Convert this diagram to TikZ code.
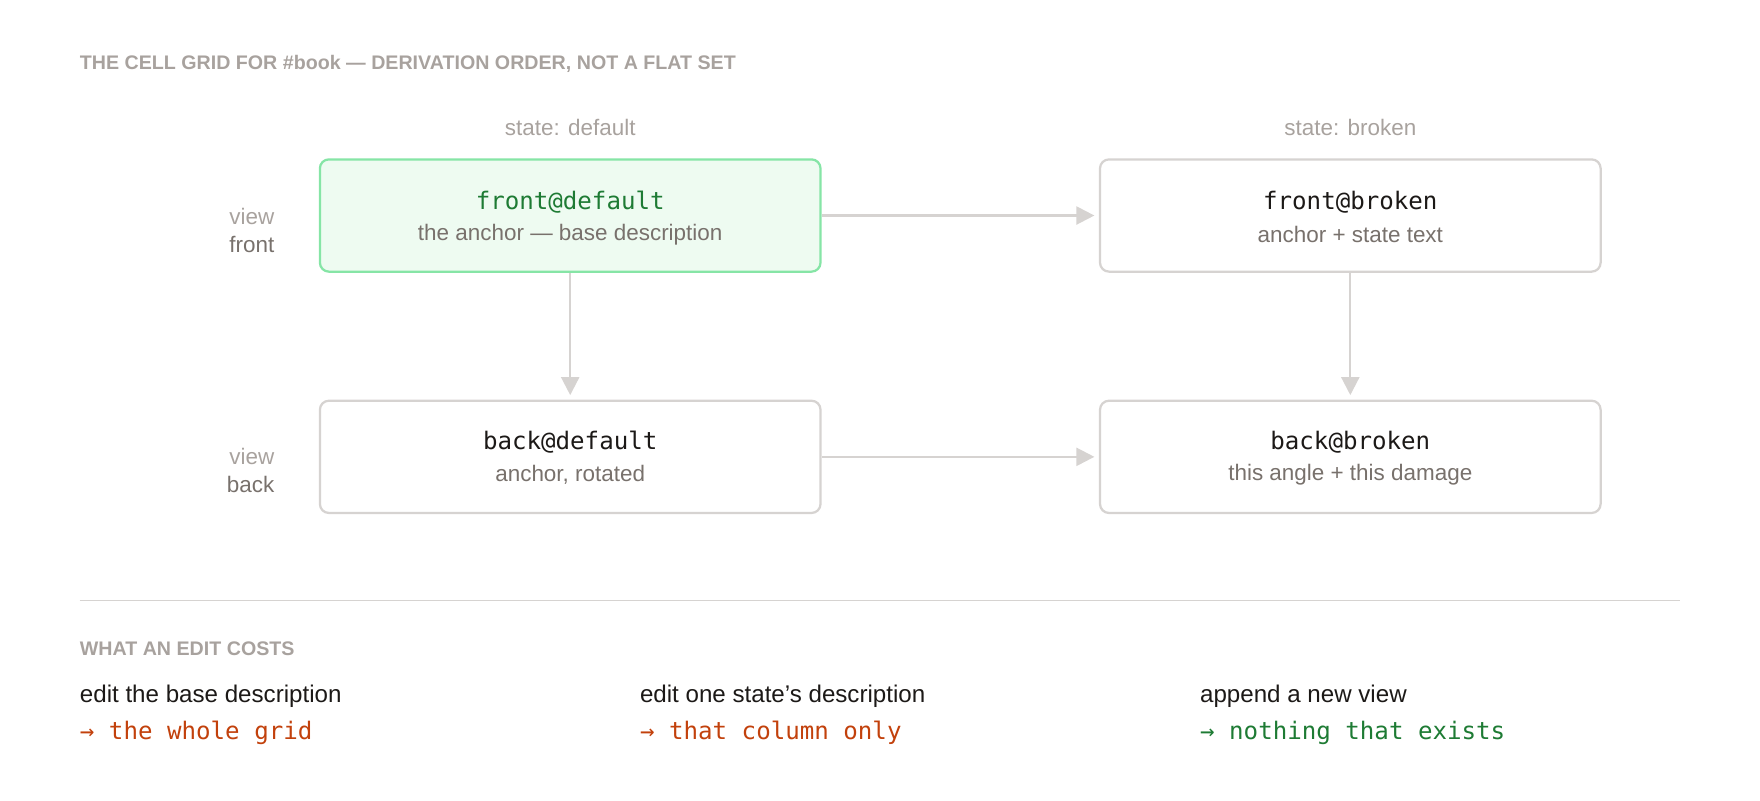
\documentclass[tikz,border=0pt]{standalone}
\usepackage{fontspec}
\setmainfont{Liberation Sans}
\setmonofont{DejaVu Sans Mono}
\usetikzlibrary{arrows.meta,positioning}
\definecolor{muted}{HTML}{A8A29E}
\definecolor{subtext}{HTML}{78716C}
\definecolor{edge}{HTML}{D6D3D1}
\definecolor{anchorfill}{HTML}{EEFBF1}
\definecolor{anchordraw}{HTML}{86E5A6}
\definecolor{goodtext}{HTML}{1E7B34}
\definecolor{costtext}{HTML}{C2410C}
\definecolor{ink}{HTML}{1C1917}

\begin{document}
\begin{tikzpicture}[x=1pt,y=-1pt,
    cell/.style={draw=edge,line width=2pt,rounded corners=8pt,fill=white,
      minimum width=446pt,minimum height=100pt},
    anchorcell/.style={cell,draw=anchordraw,fill=anchorfill},
    flow/.style={draw=edge,line width=2pt,-{Triangle[length=16pt,width=16pt]},shorten >=4pt},
    heading/.style={anchor=west,inner sep=0pt,text=muted,font=\bfseries\fontsize{17.5}{20}\selectfont},
    colhead/.style={text=muted,font=\fontsize{20}{23}\selectfont},
    rowhead/.style={anchor=east,align=right,font=\fontsize{20}{25}\selectfont},
    code/.style={font=\ttfamily\fontsize{21.5}{24}\selectfont},
    note/.style={text=subtext,font=\fontsize{20}{23}\selectfont},
    costname/.style={anchor=west,inner sep=0pt,text=ink,font=\fontsize{21.5}{24}\selectfont},
    costval/.style={anchor=west,inner sep=0pt,font=\ttfamily\fontsize{21.5}{24}\selectfont}]
    \useasboundingbox (0,0) rectangle (1568,713);

    \node[heading] (title) at (71,57) {THE CELL GRID FOR \#book — DERIVATION ORDER, NOT A FLAT SET};
    \node[colhead] (hdefault) at (508,114) {state: default};
    \node[colhead] (hbroken) at (1203,114) {state: broken};

    \node[rowhead] (vfront) at (248,205) {\textcolor{muted}{view}\\\textcolor{subtext}{front}};
    \node[rowhead] (vback) at (248,419) {\textcolor{muted}{view}\\\textcolor{subtext}{back}};

    % the grid
    \node[anchorcell] (fd) at (508,192) {};
    \node[cell] (fb) at (1203,192) {};
    \node[cell] (bd) at (508,407) {};
    \node[cell] (bb) at (1203,407) {};

    \node[code,text=goodtext] at (508,180) {front@default};
    \node[note] at (508,209) {the anchor — base description};
    \node[code,text=ink] at (1203,180) {front@broken};
    \node[note] at (1203,209) {anchor + state text};
    \node[code,text=ink] at (508,394) {back@default};
    \node[note] at (508,423) {anchor, rotated};
    \node[code,text=ink] at (1203,394) {back@broken};
    \node[note] at (1203,423) {this angle + this damage};

    \draw[flow] (fd) -- (fb);
    \draw[flow] (bd) -- (bb);
    \draw[flow] (fd) -- (bd);
    \draw[flow] (fb) -- (bb);

    % cost table
    \coordinate (sepl) at (71,535);
    \coordinate (sepr) at (1497,535);
    \draw[edge,line width=1.5pt] (sepl) -- (sepr);
    \node[heading] (costs) at (71,578) {WHAT AN EDIT COSTS};

    \node[costname] (c1) at (71,620) {edit the base description};
    \node[costval,text=costtext] (v1) at (71,653) {→ the whole grid};
    \node[costname] (c2) at (570,620) {edit one state's description};
    \node[costval,text=costtext] (v2) at (570,653) {→ that column only};
    \node[costname] (c3) at (1069,620) {append a new view};
    \node[costval,text=goodtext] (v3) at (1069,653) {→ nothing that exists};
\end{tikzpicture}
\end{document}
